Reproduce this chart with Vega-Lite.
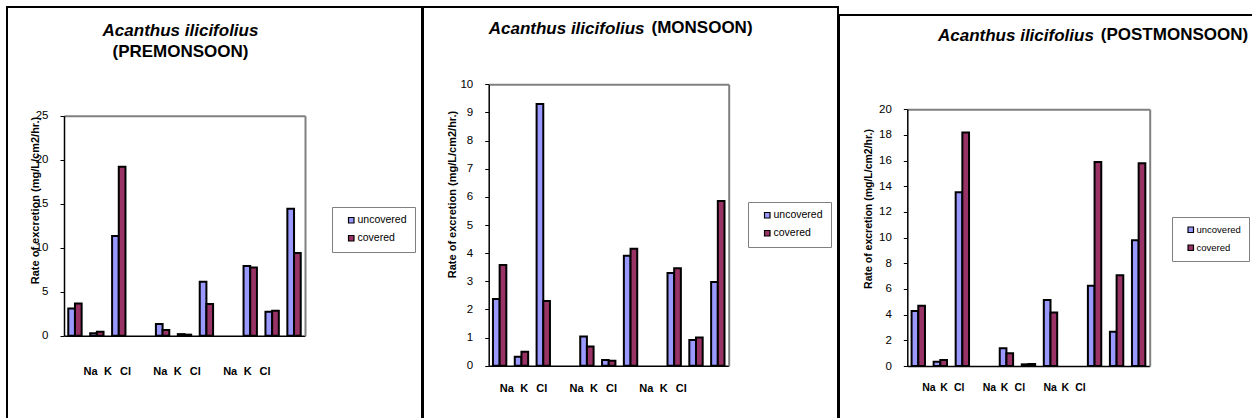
{
  "$schema": "https://vega.github.io/schema/vega-lite/v6.json",
  "padding": {"left": 6, "top": 6, "right": 0, "bottom": 0},
  "spacing": -2,
  "center": true,
  "resolve": {"scale": {"color": "independent"}, "legend": {"color": "independent"}},
  "config": {
    "font": "Liberation Sans",
    "view": {"stroke": "black", "strokeWidth": 2},
    "axis": {"labelColor": "black", "titleColor": "black", "labelFont": "Liberation Sans", "titleFont": "Liberation Sans"},
    "legend": {"labelFont": "Liberation Sans"},
    "title": {"font": "Liberation Sans", "color": "black", "subtitleColor": "black", "subtitleFont": "Liberation Sans"}
  },
  "datasets": {
    "d": [
      {"season": "PREMONSOON", "slot": "Na-1", "ion": "Na", "series": "uncovered", "value": 3.1},
      {"season": "PREMONSOON", "slot": "Na-1", "ion": "Na", "series": "covered", "value": 3.67},
      {"season": "PREMONSOON", "slot": "K-1", "ion": "K", "series": "uncovered", "value": 0.27},
      {"season": "PREMONSOON", "slot": "K-1", "ion": "K", "series": "covered", "value": 0.45},
      {"season": "PREMONSOON", "slot": "Cl-1", "ion": "Cl", "series": "uncovered", "value": 11.33},
      {"season": "PREMONSOON", "slot": "Cl-1", "ion": "Cl", "series": "covered", "value": 19.2},
      {"season": "PREMONSOON", "slot": "Na-2", "ion": "Na", "series": "uncovered", "value": 1.32},
      {"season": "PREMONSOON", "slot": "Na-2", "ion": "Na", "series": "covered", "value": 0.65},
      {"season": "PREMONSOON", "slot": "K-2", "ion": "K", "series": "uncovered", "value": 0.18},
      {"season": "PREMONSOON", "slot": "K-2", "ion": "K", "series": "covered", "value": 0.12},
      {"season": "PREMONSOON", "slot": "Cl-2", "ion": "Cl", "series": "uncovered", "value": 6.12},
      {"season": "PREMONSOON", "slot": "Cl-2", "ion": "Cl", "series": "covered", "value": 3.6},
      {"season": "PREMONSOON", "slot": "Na-3", "ion": "Na", "series": "uncovered", "value": 7.93},
      {"season": "PREMONSOON", "slot": "Na-3", "ion": "Na", "series": "covered", "value": 7.74},
      {"season": "PREMONSOON", "slot": "K-3", "ion": "K", "series": "uncovered", "value": 2.72},
      {"season": "PREMONSOON", "slot": "K-3", "ion": "K", "series": "covered", "value": 2.83},
      {"season": "PREMONSOON", "slot": "Cl-3", "ion": "Cl", "series": "uncovered", "value": 14.43},
      {"season": "PREMONSOON", "slot": "Cl-3", "ion": "Cl", "series": "covered", "value": 9.4},
      {"season": "MONSOON", "slot": "Na-1", "ion": "Na", "series": "uncovered", "value": 2.37},
      {"season": "MONSOON", "slot": "Na-1", "ion": "Na", "series": "covered", "value": 3.58},
      {"season": "MONSOON", "slot": "K-1", "ion": "K", "series": "uncovered", "value": 0.32},
      {"season": "MONSOON", "slot": "K-1", "ion": "K", "series": "covered", "value": 0.5},
      {"season": "MONSOON", "slot": "Cl-1", "ion": "Cl", "series": "uncovered", "value": 9.3},
      {"season": "MONSOON", "slot": "Cl-1", "ion": "Cl", "series": "covered", "value": 2.3},
      {"season": "MONSOON", "slot": "Na-2", "ion": "Na", "series": "uncovered", "value": 1.04},
      {"season": "MONSOON", "slot": "Na-2", "ion": "Na", "series": "covered", "value": 0.68},
      {"season": "MONSOON", "slot": "K-2", "ion": "K", "series": "uncovered", "value": 0.2},
      {"season": "MONSOON", "slot": "K-2", "ion": "K", "series": "covered", "value": 0.18},
      {"season": "MONSOON", "slot": "Cl-2", "ion": "Cl", "series": "uncovered", "value": 3.91},
      {"season": "MONSOON", "slot": "Cl-2", "ion": "Cl", "series": "covered", "value": 4.16},
      {"season": "MONSOON", "slot": "Na-3", "ion": "Na", "series": "uncovered", "value": 3.29},
      {"season": "MONSOON", "slot": "Na-3", "ion": "Na", "series": "covered", "value": 3.46},
      {"season": "MONSOON", "slot": "K-3", "ion": "K", "series": "uncovered", "value": 0.91},
      {"season": "MONSOON", "slot": "K-3", "ion": "K", "series": "covered", "value": 1.0},
      {"season": "MONSOON", "slot": "Cl-3", "ion": "Cl", "series": "uncovered", "value": 2.97},
      {"season": "MONSOON", "slot": "Cl-3", "ion": "Cl", "series": "covered", "value": 5.85},
      {"season": "POSTMONSOON", "slot": "Na-1", "ion": "Na", "series": "uncovered", "value": 4.29},
      {"season": "POSTMONSOON", "slot": "Na-1", "ion": "Na", "series": "covered", "value": 4.7},
      {"season": "POSTMONSOON", "slot": "K-1", "ion": "K", "series": "uncovered", "value": 0.34},
      {"season": "POSTMONSOON", "slot": "K-1", "ion": "K", "series": "covered", "value": 0.47},
      {"season": "POSTMONSOON", "slot": "Cl-1", "ion": "Cl", "series": "uncovered", "value": 13.54},
      {"season": "POSTMONSOON", "slot": "Cl-1", "ion": "Cl", "series": "covered", "value": 18.19},
      {"season": "POSTMONSOON", "slot": "Na-2", "ion": "Na", "series": "uncovered", "value": 1.38},
      {"season": "POSTMONSOON", "slot": "Na-2", "ion": "Na", "series": "covered", "value": 0.99},
      {"season": "POSTMONSOON", "slot": "K-2", "ion": "K", "series": "uncovered", "value": 0.13},
      {"season": "POSTMONSOON", "slot": "K-2", "ion": "K", "series": "covered", "value": 0.16},
      {"season": "POSTMONSOON", "slot": "Cl-2", "ion": "Cl", "series": "uncovered", "value": 5.14},
      {"season": "POSTMONSOON", "slot": "Cl-2", "ion": "Cl", "series": "covered", "value": 4.16},
      {"season": "POSTMONSOON", "slot": "Na-3", "ion": "Na", "series": "uncovered", "value": 6.26},
      {"season": "POSTMONSOON", "slot": "Na-3", "ion": "Na", "series": "covered", "value": 15.9},
      {"season": "POSTMONSOON", "slot": "K-3", "ion": "K", "series": "uncovered", "value": 2.67},
      {"season": "POSTMONSOON", "slot": "K-3", "ion": "K", "series": "covered", "value": 7.07},
      {"season": "POSTMONSOON", "slot": "Cl-3", "ion": "Cl", "series": "uncovered", "value": 9.8},
      {"season": "POSTMONSOON", "slot": "Cl-3", "ion": "Cl", "series": "covered", "value": 15.8}
    ]
  },
  "hconcat": [
    {
      "width": 415, "height": 420,
      "title": {"text": "Acanthus ilicifolius", "subtitle": "(PREMONSOON)", "anchor": "middle", "frame": "group", "dx": -34, "dy": 54, "offset": 0, "fontSize": 17, "fontStyle": "italic", "fontWeight": "bold", "subtitleFontSize": 17, "subtitleFontWeight": "bold", "subtitleFontStyle": "normal", "subtitlePadding": 4},
      "data": {"name": "d"},
      "transform": [{"filter": "datum.season === 'PREMONSOON'"}],
      "layer": [
        {
          "mark": {"type": "bar", "stroke": "black", "strokeWidth": 2},
          "encoding": {
            "x": {"field": "slot", "type": "nominal", "scale": {"domain": ["Na-1","K-1","Cl-1","gap-1","Na-2","K-2","Cl-2","gap-2","Na-3","K-3","Cl-3"], "range": [57, 298], "paddingInner": 0.39, "paddingOuter": 0.195},
              "axis": {"orient": "bottom", "offset": -91.3, "labels": false, "ticks": false, "domainColor": "black", "domainWidth": 1.5, "title": null, "grid": false}},
            "xOffset": {"field": "series", "type": "nominal", "scale": {"domain": ["uncovered", "covered"], "paddingInner": 0, "paddingOuter": 0}},
            "y": {"field": "value", "type": "quantitative", "scale": {"domain": [0, 25], "range": [328.7, 108.7], "nice": false},
              "axis": {"orient": "left", "offset": -57, "values": [0, 5, 10, 15, 20, 25], "tickSize": 4, "tickColor": "black", "domainColor": "black", "domainWidth": 1.5, "labelPadding": 12, "labelFontSize": 11.5, "grid": false,
                "title": "Rate of excretion (mg/L/cm2/hr.)", "titleFontSize": 11, "titleFontWeight": "bold", "titleX": -28.5, "titleY": 193, "titleAngle": -90, "titleAlign": "center", "titleBaseline": "middle"}},
            "color": {"field": "series", "type": "nominal", "scale": {"domain": ["uncovered", "covered"], "range": ["#9999FF", "#993366"]},
              "legend": {"orient": "none", "legendX": 325, "legendY": 200, "title": null, "strokeColor": "#808080", "fillColor": "white", "padding": 8, "symbolOffset": 6, "symbolType": "square", "symbolSize": 30, "symbolStrokeColor": "black", "symbolStrokeWidth": 1.2, "labelFontSize": 10.5, "labelColor": "black", "labelOffset": 1, "rowPadding": 7}}
          }
        },
        {
          "mark": {"type": "point", "opacity": 0},
          "encoding": {
            "x": {"field": "slot", "type": "nominal", "scale": {"type": "band", "domain": ["Na-1","K-1","Cl-1","gap-1","Na-2","K-2","Cl-2","gap-2","Na-3","K-3","Cl-3"], "range": [74.8, 266.8], "paddingInner": 0, "paddingOuter": 0},
              "axis": {"orient": "bottom", "offset": -91.3, "domain": false, "ticks": false, "grid": false, "labelExpr": "indexof(datum.label, 'gap') === 0 ? '' : split(datum.label, '-')[0]", "labelPadding": 30, "labelFontSize": 11, "labelFontWeight": "bold", "labelBaseline": "top", "labelAngle": 0, "title": null}},
            "y": {"field": "value", "type": "quantitative", "axis": null}
          }
        },
        {
          "mark": {"type": "point", "opacity": 0},
          "encoding": {
            "x": {"field": "slot", "type": "nominal", "scale": {"type": "band", "domain": ["Na-1","K-1","Cl-1","gap-1","Na-2","K-2","Cl-2","gap-2","Na-3","K-3","Cl-3"], "range": [57, 298], "paddingInner": 0.39, "paddingOuter": 0.195},
              "axis": {"orient": "top", "offset": -108.7, "labels": false, "ticks": false, "grid": false, "domainColor": "#808080", "domainWidth": 2, "title": null}},
            "y": {"field": "value", "type": "quantitative",
              "axis": {"orient": "right", "offset": -117, "labels": false, "ticks": false, "grid": false, "domainColor": "#808080", "domainWidth": 2, "title": null}}
          }
        }
      ],
      "resolve": {"scale": {"x": "independent"}, "axis": {"x": "independent", "y": "independent"}}
    },
    {
      "width": 415, "height": 420,
      "title": {"text": "Acanthus ilicifolius", "anchor": "start", "frame": "group", "dx": 65.7, "dy": 44, "offset": 0, "baseline": "alphabetic", "fontSize": 17, "fontStyle": "italic", "fontWeight": "bold"},
      "data": {"name": "d"},
      "transform": [{"filter": "datum.season === 'MONSOON'"}],
      "layer": [
        {
          "mark": {"type": "bar", "stroke": "black", "strokeWidth": 2},
          "encoding": {
            "x": {"field": "slot", "type": "nominal", "scale": {"domain": ["Na-1","K-1","Cl-1","gap-1","Na-2","K-2","Cl-2","gap-2","Na-3","K-3","Cl-3"], "range": [65.7, 305.7], "paddingInner": 0.39, "paddingOuter": 0.195},
              "axis": {"orient": "bottom", "offset": -61.3, "labels": false, "ticks": false, "domainColor": "black", "domainWidth": 1.5, "title": null, "grid": false}},
            "xOffset": {"field": "series", "type": "nominal", "scale": {"domain": ["uncovered", "covered"], "paddingInner": 0, "paddingOuter": 0}},
            "y": {"field": "value", "type": "quantitative", "scale": {"domain": [0, 10], "range": [358.7, 77.3], "nice": false},
              "axis": {"orient": "left", "offset": -65.7, "values": [0, 1, 2, 3, 4, 5, 6, 7, 8, 9, 10], "tickSize": 4, "tickColor": "black", "domainColor": "black", "domainWidth": 1.5, "labelPadding": 12, "labelFontSize": 11.5, "grid": false,
                "title": "Rate of excretion (mg/L/cm2/hr.)", "titleFontSize": 11, "titleFontWeight": "bold", "titleX": -36.7, "titleY": 187, "titleAngle": -90, "titleAlign": "center", "titleBaseline": "middle"}},
            "color": {"field": "series", "type": "nominal", "scale": {"domain": ["uncovered", "covered"], "range": ["#9999FF", "#993366"]},
              "legend": {"orient": "none", "legendX": 325, "legendY": 195, "title": null, "strokeColor": "#808080", "fillColor": "white", "padding": 8, "symbolOffset": 6, "symbolType": "square", "symbolSize": 30, "symbolStrokeColor": "black", "symbolStrokeWidth": 1.2, "labelFontSize": 10.5, "labelColor": "black", "labelOffset": 1, "rowPadding": 7}}
          }
        },
        {
          "mark": {"type": "point", "opacity": 0},
          "encoding": {
            "x": {"field": "slot", "type": "nominal", "scale": {"type": "band", "domain": ["Na-1","K-1","Cl-1","gap-1","Na-2","K-2","Cl-2","gap-2","Na-3","K-3","Cl-3"], "range": [75.1, 267], "paddingInner": 0, "paddingOuter": 0},
              "axis": {"orient": "bottom", "offset": -61.3, "domain": false, "ticks": false, "grid": false, "labelExpr": "indexof(datum.label, 'gap') === 0 ? '' : split(datum.label, '-')[0]", "labelPadding": 17, "labelFontSize": 11, "labelFontWeight": "bold", "labelBaseline": "top", "labelAngle": 0,
                "title": "(MONSOON)", "titleX": 228, "titleY": -333.5, "titleAlign": "left", "titleBaseline": "alphabetic", "titleFontSize": 17, "titleFontWeight": "bold", "titleAngle": 0}},
            "y": {"field": "value", "type": "quantitative", "axis": null}
          }
        },
        {
          "mark": {"type": "point", "opacity": 0},
          "encoding": {
            "x": {"field": "slot", "type": "nominal", "scale": {"type": "band", "domain": ["Na-1","K-1","Cl-1","gap-1","Na-2","K-2","Cl-2","gap-2","Na-3","K-3","Cl-3"], "range": [65.7, 305.7], "paddingInner": 0.39, "paddingOuter": 0.195},
              "axis": {"orient": "top", "offset": -77.3, "labels": false, "ticks": false, "grid": false, "domainColor": "#808080", "domainWidth": 2, "title": null}},
            "y": {"field": "value", "type": "quantitative",
              "axis": {"orient": "right", "offset": -109.3, "labels": false, "ticks": false, "grid": false, "domainColor": "#808080", "domainWidth": 2, "title": null}}
          }
        }
      ],
      "resolve": {"scale": {"x": "independent"}, "axis": {"x": "independent", "y": "independent"}}
    },
    {
      "width": 414, "height": 404,
      "title": {"text": "Acanthus ilicifolius", "anchor": "start", "frame": "group", "dx": 99, "dy": 43, "offset": 0, "baseline": "alphabetic", "fontSize": 17, "fontStyle": "italic", "fontWeight": "bold"},
      "data": {"name": "d"},
      "transform": [{"filter": "datum.season === 'POSTMONSOON'"}],
      "layer": [
        {
          "mark": {"type": "bar", "stroke": "black", "strokeWidth": 2},
          "encoding": {
            "x": {"field": "slot", "type": "nominal", "scale": {"domain": ["Na-1","K-1","Cl-1","gap-1","Na-2","K-2","Cl-2","gap-2","Na-3","K-3","Cl-3"], "range": [68.3, 310.7], "paddingInner": 0.39, "paddingOuter": 0.195},
              "axis": {"orient": "bottom", "offset": -53, "labels": false, "ticks": false, "domainColor": "black", "domainWidth": 1.5, "title": null, "grid": false}},
            "xOffset": {"field": "series", "type": "nominal", "scale": {"domain": ["uncovered", "covered"], "paddingInner": 0, "paddingOuter": 0}},
            "y": {"field": "value", "type": "quantitative", "scale": {"domain": [0, 20], "range": [351, 94.3], "nice": false},
              "axis": {"orient": "left", "offset": -68.3, "values": [0, 2, 4, 6, 8, 10, 12, 14, 16, 18, 20], "tickSize": 4, "tickColor": "black", "domainColor": "black", "domainWidth": 1.5, "labelPadding": 12, "labelFontSize": 11.5, "grid": false,
                "title": "Rate of excretion (mg/L/cm2/hr.)", "titleFontSize": 10.5, "titleFontWeight": "bold", "titleX": -38.6, "titleY": 193.5, "titleAngle": -90, "titleAlign": "center", "titleBaseline": "middle"}},
            "color": {"field": "series", "type": "nominal", "scale": {"domain": ["uncovered", "covered"], "range": ["#9999FF", "#993366"]},
              "legend": {"orient": "none", "legendX": 333, "legendY": 202, "title": null, "strokeColor": "#808080", "fillColor": "white", "padding": 8, "symbolOffset": 6, "symbolType": "square", "symbolSize": 30, "symbolStrokeColor": "black", "symbolStrokeWidth": 1.2, "labelFontSize": 9.5, "labelColor": "black", "labelOffset": 1, "rowPadding": 7}}
          }
        },
        {
          "mark": {"type": "point", "opacity": 0},
          "encoding": {
            "x": {"field": "slot", "type": "nominal", "scale": {"type": "band", "domain": ["Na-1","K-1","Cl-1","gap-1","Na-2","K-2","Cl-2","gap-2","Na-3","K-3","Cl-3"], "range": [82.3, 249], "paddingInner": 0, "paddingOuter": 0},
              "axis": {"orient": "bottom", "offset": -53, "domain": false, "ticks": false, "grid": false, "labelExpr": "indexof(datum.label, 'gap') === 0 ? '' : split(datum.label, '-')[0]", "labelPadding": 16, "labelFontSize": 10.5, "labelFontWeight": "bold", "labelBaseline": "top", "labelAngle": 0,
                "title": "(POSTMONSOON)", "titleX": 261.3, "titleY": -326.5, "titleAlign": "left", "titleBaseline": "alphabetic", "titleFontSize": 17, "titleFontWeight": "bold", "titleAngle": 0}},
            "y": {"field": "value", "type": "quantitative", "axis": null}
          }
        },
        {
          "mark": {"type": "point", "opacity": 0},
          "encoding": {
            "x": {"field": "slot", "type": "nominal", "scale": {"type": "band", "domain": ["Na-1","K-1","Cl-1","gap-1","Na-2","K-2","Cl-2","gap-2","Na-3","K-3","Cl-3"], "range": [68.3, 310.7], "paddingInner": 0.39, "paddingOuter": 0.195},
              "axis": {"orient": "top", "offset": -94.3, "labels": false, "ticks": false, "grid": false, "domainColor": "#808080", "domainWidth": 2, "title": null}},
            "y": {"field": "value", "type": "quantitative",
              "axis": {"orient": "right", "offset": -103.3, "labels": false, "ticks": false, "grid": false, "domainColor": "#808080", "domainWidth": 2, "title": null}}
          }
        }
      ],
      "resolve": {"scale": {"x": "independent"}, "axis": {"x": "independent", "y": "independent"}}
    }
  ]
}
